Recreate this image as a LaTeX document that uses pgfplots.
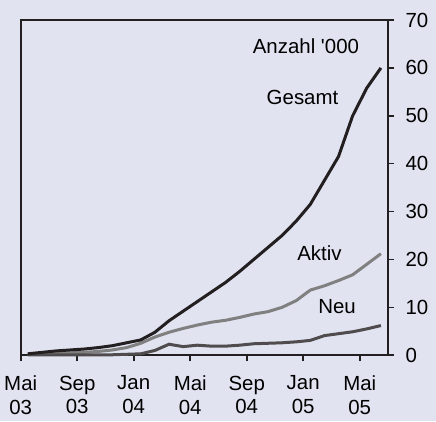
\documentclass[border=0pt]{standalone}
\usepackage{fontspec}
\setmainfont{Liberation Sans}
\usepackage{pgfplots}
\pgfplotsset{compat=1.18}
\usetikzlibrary{backgrounds}
\definecolor{bg}{RGB}{225,227,240}
\definecolor{cges}{RGB}{35,31,32}
\definecolor{cakt}{RGB}{128,128,128}
\definecolor{cneu}{RGB}{80,76,77}
\begin{document}
\begin{tikzpicture}
\begin{axis}[
  name=ax,
  scale only axis,
  width=367bp, height=335bp,
  xmin=0, xmax=26, ymin=0, ymax=70,
  axis line style={line width=1.6bp, color=cges},
  xtick={0,4,8,12,16,20,24},
  xticklabels={Mai\\03,Sep\\03,Jan\\04,Mai\\04,Sep\\04,Jan\\05,Mai\\05},
  xticklabel style={align=center, font=\fontsize{20.5}{23.5}\selectfont},
  ytick={0,10,...,70},
  yticklabel style={font=\fontsize{20.5}{24}\selectfont},
  /pgf/number format/assume math mode=true,
  xtick pos=bottom, ytick pos=right, yticklabel pos=right,
  tick align=outside,
  major tick length=6bp,
  tick style={line width=1.6bp, color=cges},
  xticklabel shift=11bp,
  yticklabel shift=8bp,
  clip=false,
]
\addplot[cakt, line width=3bp] coordinates {
(0.5,0.2)(1.5,0.3)(2.5,0.4)(3.5,0.5)(4.5,0.6)(5.5,0.8)(6.5,1.1)(7.5,1.6)(8.5,2.5)(9.5,3.8)
(10.5,4.8)(11.5,5.6)(12.5,6.3)(13.5,6.9)(14.5,7.3)(15.5,7.9)(16.5,8.6)(17.5,9.1)(18.5,10.0)
(19.5,11.4)(20.5,13.6)(21.5,14.5)(22.5,15.6)(23.5,16.8)(24.5,19.0)(25.5,21.2)};
\addplot[cneu, line width=3bp] coordinates {
(0.5,0.1)(1.5,0.1)(2.5,0.1)(3.5,0.1)(4.5,0.1)(5.5,0.1)(6.5,0.1)(7.5,0.2)(8.5,0.3)(9.5,1.0)
(10.5,2.3)(11.5,1.8)(12.5,2.1)(13.5,1.9)(14.5,1.9)(15.5,2.1)(16.5,2.4)(17.5,2.5)(18.5,2.6)
(19.5,2.8)(20.5,3.1)(21.5,4.1)(22.5,4.5)(23.5,4.9)(24.5,5.5)(25.5,6.2)};
\addplot[cges, line width=3bp] coordinates {
(0.5,0.3)(1.5,0.6)(2.5,0.9)(3.5,1.1)(4.5,1.3)(5.5,1.6)(6.5,2.0)(7.5,2.6)(8.5,3.2)(9.5,4.8)
(10.5,7.2)(11.5,9.2)(12.5,11.2)(13.5,13.2)(14.5,15.2)(15.5,17.5)(16.5,20.0)(17.5,22.5)
(18.5,25.0)(19.5,28.0)(20.5,31.5)(21.5,36.5)(22.5,41.5)(23.5,50.0)(24.5,55.8)(25.5,60.0)};
\node[anchor=east, font=\fontsize{20.5}{24}\selectfont] at (axis cs:24.2,64.6) {Anzahl \textquotesingle000};
\node[font=\fontsize{20.5}{24}\selectfont] at (axis cs:19.95,53.9) {Gesamt};
\node[font=\fontsize{20.5}{24}\selectfont] at (axis cs:21.15,21.4) {Aktiv};
\node[font=\fontsize{20.5}{24}\selectfont] at (axis cs:22.4,10.1) {Neu};
\end{axis}
\begin{scope}[on background layer]
\fill[bg] ([xshift=-20.7bp,yshift=-66bp]ax.south west) rectangle ([xshift=48bp,yshift=20bp]ax.north east);
\end{scope}
\pgfresetboundingbox
\useasboundingbox ([xshift=-20.7bp,yshift=-66bp]ax.south west) rectangle ([xshift=48bp,yshift=20bp]ax.north east);
\end{tikzpicture}
\end{document}
